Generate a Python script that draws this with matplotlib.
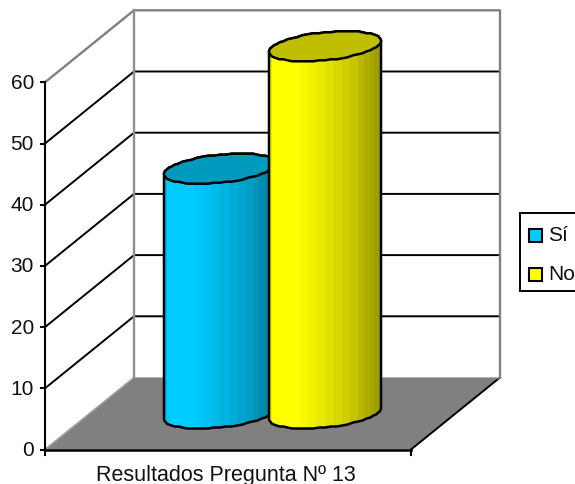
import matplotlib
import matplotlib.pyplot as plt
import numpy as np
from matplotlib.patches import Polygon, Rectangle
matplotlib.use('Agg')

plt.rcParams['font.family'] = ['Liberation Sans', 'DejaVu Sans']

categories = ['Sí', 'No']
values = [40, 60]
y_ticks = [0, 10, 20, 30, 40, 50, 60]
x_label = 'Resultados Pregunta Nº 13'

# layout in pixels, y axis in data units
px_per_unit = 6.12
y0_px = 450.5
x_left, x_right = 45, 411
depth_x, depth_y = 89, 72 / px_per_unit
centers = [220, 325]
half_w = 56
colors = {'Sí': ('#00CCFF', '#009ABF'), 'No': ('#FFFF00', '#BFBF00')}

fig = plt.figure(figsize=(5.75, 4.85), dpi=100)
ax = fig.add_axes([0, 0, 1, 1])
ax.axis('off')

top = y_ticks[-1]
# floor
ax.add_patch(Polygon([(x_left, 0), (x_right, 0), (x_right + depth_x, depth_y), (x_left + depth_x, depth_y)],
                     fc='#808080', ec='none', zorder=1))
ax.plot([x_left, x_left + depth_x], [0, depth_y], color='#a0a0a0', lw=1.2, zorder=2)
ax.plot([x_right, x_right + depth_x], [0, depth_y], color='black', lw=1.4, zorder=2)

# grid lines on both walls
for t in y_ticks[1:-1]:
    ax.plot([x_left, x_left + depth_x, x_right + depth_x], [t, t + depth_y, t + depth_y],
            color='black', lw=1.4, zorder=2)

# wall frame
ax.plot([x_left, x_left + depth_x, x_right + depth_x, x_right + depth_x],
        [top, top + depth_y, top + depth_y, depth_y], color='#808080', lw=1.7, zorder=2)
ax.plot([x_left + depth_x, x_left + depth_x], [depth_y, top + depth_y], color='#909090', lw=1.7, zorder=2)
ax.plot([x_left + depth_x, x_right + depth_x], [depth_y, depth_y], color='#808080', lw=1, zorder=2)

# front axes and ticks
ax.plot([x_left, x_left], [0, top], color='black', lw=1.5, zorder=3)
ax.plot([x_left, x_right], [0, 0], color='black', lw=1.8, zorder=3)
for t in y_ticks:
    ax.plot([x_left - 4, x_left], [t, t], color='black', lw=1.5, zorder=3)
    ax.text(x_left - 11, t, str(t), ha='right', va='center', fontsize=15, color='#111111')
ax.plot([x_left, x_left], [0, -5 / px_per_unit], color='black', lw=1.5, zorder=3)
ax.plot([x_right, x_right], [0, -5 / px_per_unit], color='black', lw=1.5, zorder=3)
ax.text((x_left + x_right) / 2 - 2, -25.5 / px_per_unit, x_label, ha='center', va='center', fontsize=15.5, color='#111111')


def ellipse(cx, cy):
    # tilted ellipse, y snapped to pixels for the slightly rough outline of the 3D cylinder
    a = np.linspace(0, 2 * np.pi, 61)
    ex = cx + half_w * np.cos(a)
    ey = np.round(14 * np.sin(a) + 5.5 * np.cos(a)) / px_per_unit + cy
    return np.column_stack([ex, ey])


def shade(t):
    # stepped brightness across the cylinder
    n_bands = 20
    ang = np.arccos(1 - 2 * t)
    band = np.floor(ang / (np.pi / n_bands))
    mid = (1 - np.cos((band + 0.5) * np.pi / n_bands)) / 2
    return np.interp(mid, [0, 0.03, 0.25, 0.5, 0.75, 1], [0.85, 1, 1, 0.9, 0.78, 0.6])


base = depth_y / 2
for cat, val, cx, z in zip(categories, values, centers, [4, 6]):
    col, top_col = colors[cat]
    y_top = base + val
    rgb = np.array(matplotlib.colors.to_rgb(col))
    t = np.linspace(0, 1, 112)
    img = (shade(t)[None, :, None] * rgb[None, None, :])
    outline = np.vstack([
        ellipse(cx, base)[30:61],
        ellipse(cx, y_top)[0:31],
    ])
    body = Polygon(outline, closed=True, fc='none', ec='black', lw=1.8, zorder=z + 1)
    ax.add_patch(body)
    im = ax.imshow(img, extent=[cx - half_w, cx + half_w, base - 3, y_top + 3], aspect='auto',
                   zorder=z, interpolation='nearest')
    im.set_clip_path(body)
    ax.add_patch(Polygon(ellipse(cx, y_top), closed=True, fc=top_col, ec='black', lw=1.8, zorder=z + 1))
ax.set_xlim(0, 575)
ax.set_ylim(-(485 - y0_px) / px_per_unit, y0_px / px_per_unit)

# legend box runs off the right edge
def py(p):
    return (y0_px - p) / px_per_unit


ax.add_patch(Rectangle((520, py(292)), 70, 78 / px_per_unit, fc='white', ec='black', lw=1.4, zorder=8, clip_on=True))
for cat, y_px in zip(categories, [236, 275]):
    ax.add_patch(Rectangle((529, py(y_px + 6.5)), 13, 13 / px_per_unit, fc=colors[cat][0], ec='black', lw=1.5, zorder=9))
    ax.text(548, py(y_px), cat, ha='left', va='center', fontsize=15, color='#111111', zorder=9, clip_on=True)

fig.savefig('out.png', dpi=100)
